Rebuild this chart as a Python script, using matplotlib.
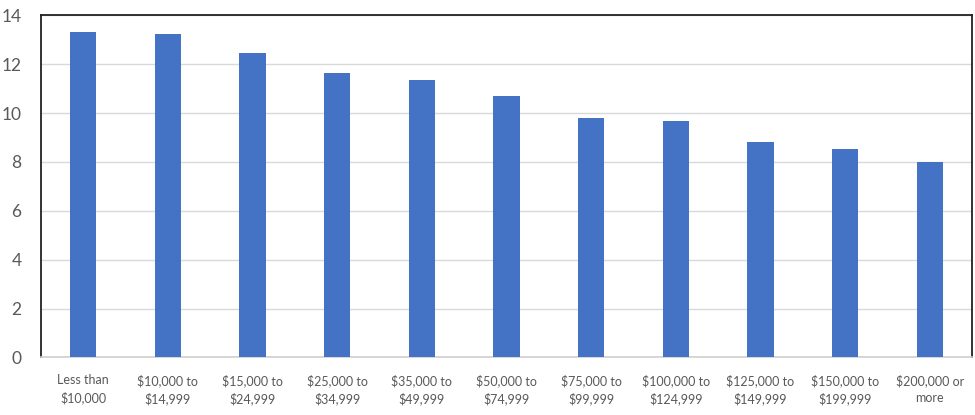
import matplotlib
matplotlib.use("Agg")
import matplotlib.pyplot as plt
import numpy as np

categories = ["Less than\n$10,000", "$10,000 to\n$14,999", "$15,000 to\n$24,999",
              "$25,000 to\n$34,999", "$35,000 to\n$49,999", "$50,000 to\n$74,999",
              "$75,000 to\n$99,999", "$100,000 to\n$124,999", "$125,000 to\n$149,999",
              "$150,000 to\n$199,999", "$200,000 or\nmore"]
values = [13.30, 13.23, 12.48, 11.64, 11.37, 10.69, 9.79, 9.66, 8.82, 8.55, 8.00]
yticks = [0, 2, 4, 6, 8, 10, 12, 14]

plt.rcParams['font.family'] = ['Lato', 'DejaVu Sans']

fig = plt.figure(figsize=(9.75, 4.15), dpi=100)
ax = fig.add_axes([0.042, 0.1386, 0.955, 0.8244])

x = np.arange(len(categories))
ax.bar(x, values, width=0.31, color="#4472C4", zorder=3)

ax.set_xlim(-0.5, len(categories) - 0.5)
ax.set_ylim(0, 14)
ax.set_yticks(yticks)
ax.set_yticklabels([str(t) for t in yticks], fontsize=12.5, color="#595959")
ax.set_xticks(x)
ax.set_xticklabels(categories, fontsize=9, color="#595959", linespacing=1.5)
ax.tick_params(axis='y', length=0, pad=14)
ax.tick_params(axis='x', length=0, pad=12)

ax.grid(axis='y', color="#d9d9d9", linewidth=1.0, zorder=0)
ax.set_axisbelow(True)

for s in ['left', 'top', 'right']:
    ax.spines[s].set_color("#222222")
    ax.spines[s].set_linewidth(1.3)
ax.spines['bottom'].set_color("#d0d0d0")
ax.spines['bottom'].set_linewidth(1.2)

fig.savefig("out.png", dpi=100)
